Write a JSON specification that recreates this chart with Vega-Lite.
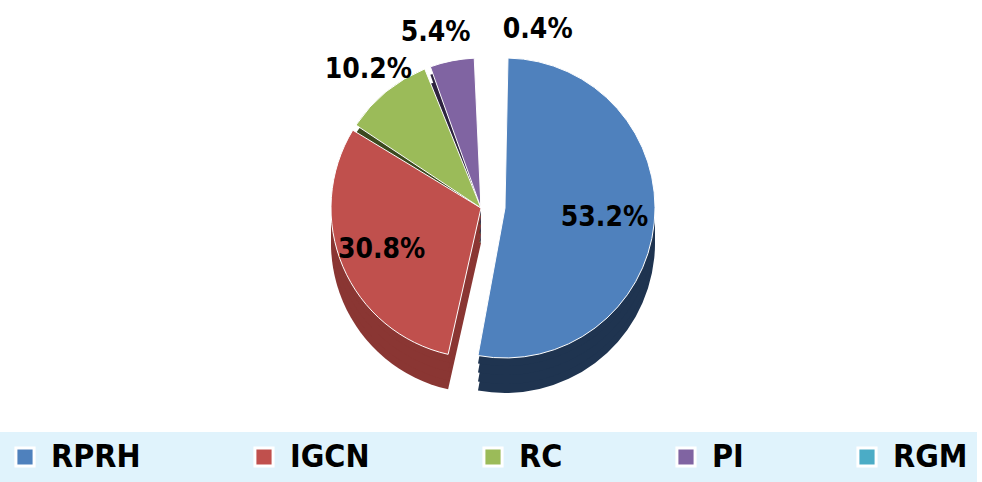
{
  "$schema": "https://vega.github.io/schema/vega-lite/v6.json",
  "width": 982,
  "height": 482,
  "autosize": {"type": "fit", "contains": "padding"},
  "padding": {"left": 0, "right": 0, "top": 0, "bottom": 0},
  "background": "white",
  "config": {
    "view": {"stroke": null},
    "font": "DejaVu Sans Condensed",
    "legend": {
      "orient": "bottom",
      "direction": "horizontal",
      "symbolType": "square",
      "symbolSize": 330,
      "symbolStrokeColor": "white",
      "symbolStrokeWidth": 3,
      "labelFont": "DejaVu Sans Condensed",
      "labelFontSize": 32,
      "labelFontWeight": "bold",
      "labelColor": "black",
      "columnPadding": 107,
      "labelOffset": 10,
      "padding": 9,
      "offset": 4,
      "fillColor": "#e0f3fc",
      "title": null
    }
  },
  "data": {
    "values": [
      {"cat": "RPRH", "value": 53.2, "order": 1, "label": "53.2%"},
      {"cat": "IGCN", "value": 30.8, "order": 2, "label": "30.8%"},
      {"cat": "RC", "value": 10.2, "order": 3, "label": "10.2%"},
      {"cat": "PI", "value": 5.4, "order": 4, "label": "5.4%"},
      {"cat": "RGM", "value": 0.4, "order": 5, "label": "0.4%"}
    ]
  },
  "encoding": {
    "theta": {"field": "value", "type": "quantitative", "stack": true},
    "order": {"field": "order", "type": "quantitative"}
  },
  "resolve": {"scale": {"color": "independent"}},
  "layer": [
    {"mark": {"type": "arc", "outerRadius": 150, "padAngle": 0.04, "yOffset": 29, "xOffset": 14}, "encoding": {"color": {"field": "cat", "type": "nominal", "scale": {"domain": ["RPRH", "IGCN", "RC", "PI", "RGM"], "range": ["#1f3450", "#8a3633", "#3c4a1f", "#2e243f", "#1c5f6f"]}, "legend": null}, "opacity": {"condition": {"test": "datum.cat === 'RPRH'", "value": 1}, "value": 0}}},
    {"mark": {"type": "arc", "outerRadius": 150, "padAngle": 0.04, "yOffset": 29, "xOffset": -10}, "encoding": {"color": {"field": "cat", "type": "nominal", "scale": {"domain": ["RPRH", "IGCN", "RC", "PI", "RGM"], "range": ["#1f3450", "#8a3633", "#3c4a1f", "#2e243f", "#1c5f6f"]}, "legend": null}, "opacity": {"condition": {"test": "datum.cat === 'RPRH'", "value": 0}, "value": 1}}},
    {"mark": {"type": "arc", "outerRadius": 150, "padAngle": 0.04, "yOffset": 20, "xOffset": 14}, "encoding": {"color": {"field": "cat", "type": "nominal", "scale": {"domain": ["RPRH", "IGCN", "RC", "PI", "RGM"], "range": ["#1f3450", "#8a3633", "#3c4a1f", "#2e243f", "#1c5f6f"]}, "legend": null}, "opacity": {"condition": {"test": "datum.cat === 'RPRH'", "value": 1}, "value": 0}}},
    {"mark": {"type": "arc", "outerRadius": 150, "padAngle": 0.04, "yOffset": 20, "xOffset": -10}, "encoding": {"color": {"field": "cat", "type": "nominal", "scale": {"domain": ["RPRH", "IGCN", "RC", "PI", "RGM"], "range": ["#1f3450", "#8a3633", "#3c4a1f", "#2e243f", "#1c5f6f"]}, "legend": null}, "opacity": {"condition": {"test": "datum.cat === 'RPRH'", "value": 0}, "value": 1}}},
    {"mark": {"type": "arc", "outerRadius": 150, "padAngle": 0.04, "yOffset": 11, "xOffset": 14}, "encoding": {"color": {"field": "cat", "type": "nominal", "scale": {"domain": ["RPRH", "IGCN", "RC", "PI", "RGM"], "range": ["#1f3450", "#8a3633", "#3c4a1f", "#2e243f", "#1c5f6f"]}, "legend": null}, "opacity": {"condition": {"test": "datum.cat === 'RPRH'", "value": 1}, "value": 0}}},
    {"mark": {"type": "arc", "outerRadius": 150, "padAngle": 0.04, "yOffset": 11, "xOffset": -10}, "encoding": {"color": {"field": "cat", "type": "nominal", "scale": {"domain": ["RPRH", "IGCN", "RC", "PI", "RGM"], "range": ["#1f3450", "#8a3633", "#3c4a1f", "#2e243f", "#1c5f6f"]}, "legend": null}, "opacity": {"condition": {"test": "datum.cat === 'RPRH'", "value": 0}, "value": 1}}},
    {"mark": {"type": "arc", "outerRadius": 150, "padAngle": 0.04, "yOffset": 2, "xOffset": 14}, "encoding": {"color": {"field": "cat", "type": "nominal", "scale": {"domain": ["RPRH", "IGCN", "RC", "PI", "RGM"], "range": ["#1f3450", "#8a3633", "#3c4a1f", "#2e243f", "#1c5f6f"]}, "legend": null}, "opacity": {"condition": {"test": "datum.cat === 'RPRH'", "value": 1}, "value": 0}}},
    {"mark": {"type": "arc", "outerRadius": 150, "padAngle": 0.04, "yOffset": 2, "xOffset": -10}, "encoding": {"color": {"field": "cat", "type": "nominal", "scale": {"domain": ["RPRH", "IGCN", "RC", "PI", "RGM"], "range": ["#1f3450", "#8a3633", "#3c4a1f", "#2e243f", "#1c5f6f"]}, "legend": null}, "opacity": {"condition": {"test": "datum.cat === 'RPRH'", "value": 0}, "value": 1}}},
    {"mark": {"type": "arc", "outerRadius": 150, "padAngle": 0.04, "yOffset": -6, "xOffset": 14, "stroke": "white", "strokeWidth": 1}, "encoding": {"color": {"field": "cat", "type": "nominal", "scale": {"domain": ["RPRH", "IGCN", "RC", "PI", "RGM"], "range": ["#4f81bd", "#c0504d", "#9bbb59", "#8064a2", "#4bacc6"]}, "legend": null}, "opacity": {"condition": {"test": "datum.cat === 'RPRH'", "value": 1}, "value": 0}}},
    {"mark": {"type": "arc", "outerRadius": 150, "padAngle": 0.04, "yOffset": -6, "xOffset": -10, "stroke": "white", "strokeWidth": 1}, "encoding": {"color": {"field": "cat", "type": "nominal", "sort": ["RPRH", "IGCN", "RC", "PI", "RGM"], "scale": {"domain": ["RPRH", "IGCN", "RC", "PI", "RGM"], "range": ["#4f81bd", "#c0504d", "#9bbb59", "#8064a2", "#4bacc6"]}, "legend": {"symbolOpacity": 1}}, "opacity": {"condition": {"test": "datum.cat === 'RPRH'", "value": 0}, "value": 1}}},
    {"mark": {"type": "text", "radius": 100, "yOffset": -6, "xOffset": 14, "fontSize": 28, "fontWeight": "bold", "font": "DejaVu Sans Condensed", "color": "black"}, "encoding": {"text": {"condition": {"test": "datum.cat === 'RPRH'", "field": "label"}, "value": ""}}},
    {"mark": {"type": "text", "radius": 108, "yOffset": -6, "xOffset": -10, "fontSize": 28, "fontWeight": "bold", "font": "DejaVu Sans Condensed", "color": "black"}, "encoding": {"text": {"condition": {"test": "datum.cat === 'IGCN'", "field": "label"}, "value": ""}}},
    {"mark": {"type": "text", "radius": 178, "yOffset": -6, "xOffset": -10, "fontSize": 28, "fontWeight": "bold", "font": "DejaVu Sans Condensed", "color": "black"}, "encoding": {"text": {"condition": {"test": "datum.cat === 'RC'", "field": "label"}, "value": ""}}},
    {"mark": {"type": "text", "radius": 178, "yOffset": -6, "xOffset": -10, "dx": 24, "align": "right", "fontSize": 28, "fontWeight": "bold", "font": "DejaVu Sans Condensed", "color": "black"}, "encoding": {"text": {"condition": {"test": "datum.cat === 'PI'", "field": "label"}, "value": ""}}},
    {"mark": {"type": "text", "radius": 178, "yOffset": -6, "xOffset": -10, "dx": 24, "align": "left", "fontSize": 28, "fontWeight": "bold", "font": "DejaVu Sans Condensed", "color": "black"}, "encoding": {"text": {"condition": {"test": "datum.cat === 'RGM'", "field": "label"}, "value": ""}}}
  ]
}
